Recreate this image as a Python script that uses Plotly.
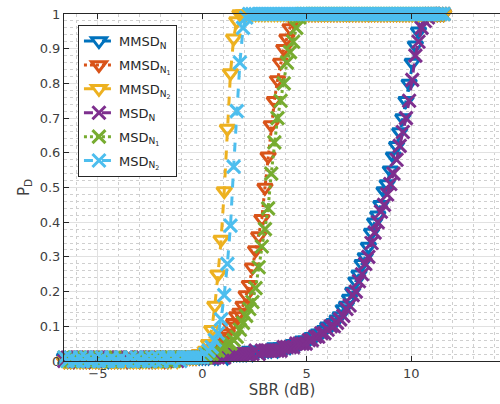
import plotly.graph_objects as go

sbr_db = [
    -6.60, -6.45, -6.30, -6.15, -6.00, -5.85, -5.70, -5.55, -5.40, -5.25,
    -5.10, -4.95, -4.80, -4.65, -4.50, -4.35, -4.20, -4.05, -3.90, -3.75,
    -3.60, -3.45, -3.30, -3.15, -3.00, -2.85, -2.70, -2.55, -2.40, -2.25,
    -2.10, -1.95, -1.80, -1.65, -1.50, -1.35, -1.20, -1.05, -0.90, -0.75,
    -0.60, -0.45, -0.30, -0.15, 0.00, 0.15, 0.30, 0.45, 0.60, 0.75,
    0.90, 1.05, 1.20, 1.35, 1.50, 1.65, 1.80, 1.95, 2.10, 2.25,
    2.40, 2.55, 2.70, 2.85, 3.00, 3.15, 3.30, 3.45, 3.60, 3.75,
    3.90, 4.05, 4.20, 4.35, 4.50, 4.65, 4.80, 4.95, 5.10, 5.25,
    5.40, 5.55, 5.70, 5.85, 6.00, 6.15, 6.30, 6.45, 6.60, 6.75,
    6.90, 7.05, 7.20, 7.35, 7.50, 7.65, 7.80, 7.95, 8.10, 8.25,
    8.40, 8.55, 8.70, 8.85, 9.00, 9.15, 9.30, 9.45, 9.60, 9.75,
    9.90, 10.05, 10.20, 10.35, 10.50, 10.65, 10.80, 10.95, 11.10, 11.25,
    11.40, 11.55,
]

pd_mmsd_n = [
    0.01, 0.00, 0.01, 0.00, 0.01, 0.01, 0.00, 0.01, 0.00, 0.01,
    0.01, 0.00, 0.01, 0.01, 0.00, 0.01, 0.01, 0.00, 0.01, 0.01,
    0.00, 0.01, 0.01, 0.01, 0.00, 0.01, 0.01, 0.01, 0.00, 0.01,
    0.01, 0.01, 0.01, 0.00, 0.01, 0.01, 0.01, 0.01, 0.01, 0.01,
    0.01, 0.01, 0.01, 0.01, 0.01, 0.01, 0.01, 0.02, 0.01, 0.01,
    0.02, 0.02, 0.01, 0.02, 0.02, 0.02, 0.02, 0.02, 0.02, 0.03,
    0.02, 0.03, 0.03, 0.03, 0.03, 0.03, 0.03, 0.04, 0.03, 0.04,
    0.04, 0.04, 0.04, 0.05, 0.05, 0.05, 0.06, 0.06, 0.06, 0.07,
    0.07, 0.08, 0.08, 0.09, 0.10, 0.10, 0.11, 0.12, 0.13, 0.15,
    0.16, 0.18, 0.20, 0.23, 0.25, 0.28, 0.30, 0.33, 0.37, 0.40,
    0.42, 0.45, 0.49, 0.51, 0.55, 0.59, 0.62, 0.66, 0.70, 0.75,
    0.80, 0.86, 0.91, 0.95, 0.98, 0.99, 1, 1, 1, 1,
    1, 1,
]

pd_mmsd_n1 = [
    0.00, 0.01, 0.00, 0.00, 0.01, 0.00, 0.01, 0.00, 0.00, 0.01,
    0.00, 0.00, 0.01, 0.00, 0.01, 0.00, 0.00, 0.01, 0.00, 0.01,
    0.00, 0.01, 0.00, 0.01, 0.00, 0.01, 0.01, 0.00, 0.01, 0.00,
    0.01, 0.01, 0.00, 0.01, 0.01, 0.01, 0.01, 0.01, 0.01, 0.01,
    0.01, 0.01, 0.01, 0.02, 0.02, 0.02, 0.03, 0.03, 0.04, 0.05,
    0.06, 0.07, 0.08, 0.10, 0.11, 0.13, 0.14, 0.16, 0.19, 0.22,
    0.27, 0.32, 0.36, 0.41, 0.50, 0.59, 0.68, 0.75, 0.81, 0.86,
    0.90, 0.93, 0.96, 0.98, 0.99, 1, 1, 1, 1, 1,
    1, 1, 1, 1, 1, 1, 1, 1, 1, 1,
    1, 1, 1, 1, 1, 1, 1, 1, 1, 1,
    1, 1, 1, 1, 1, 1, 1, 1, 1, 1,
    1, 1, 1, 1, 1, 1, 1, 1, 1, 1,
    1, 1,
]

pd_mmsd_n2 = [
    0.00, 0.00, 0.00, 0.01, 0.00, 0.00, 0.00, 0.00, 0.01, 0.00,
    0.00, 0.00, 0.00, 0.00, 0.01, 0.00, 0.00, 0.00, 0.00, 0.00,
    0.01, 0.00, 0.00, 0.00, 0.00, 0.00, 0.00, 0.01, 0.00, 0.00,
    0.00, 0.00, 0.01, 0.00, 0.00, 0.01, 0.00, 0.01, 0.01, 0.01,
    0.01, 0.01, 0.01, 0.02, 0.02, 0.03, 0.05, 0.09, 0.16, 0.25,
    0.35, 0.49, 0.67, 0.83, 0.93, 0.98, 1, 1, 1, 1,
    1, 1, 1, 1, 1, 1, 1, 1, 1, 1,
    1, 1, 1, 1, 1, 1, 1, 1, 1, 1,
    1, 1, 1, 1, 1, 1, 1, 1, 1, 1,
    1, 1, 1, 1, 1, 1, 1, 1, 1, 1,
    1, 1, 1, 1, 1, 1, 1, 1, 1, 1,
    1, 1, 1, 1, 1, 1, 1, 1, 1, 1,
    1, 1,
]

pd_msd_n = [
    0.00, 0.01, 0.01, 0.00, 0.01, 0.00, 0.01, 0.01, 0.00, 0.01,
    0.00, 0.01, 0.01, 0.00, 0.01, 0.01, 0.00, 0.01, 0.01, 0.00,
    0.01, 0.01, 0.00, 0.01, 0.01, 0.01, 0.00, 0.01, 0.01, 0.01,
    0.01, 0.00, 0.01, 0.01, 0.01, 0.01, 0.00, 0.01, 0.01, 0.01,
    0.01, 0.01, 0.01, 0.01, 0.01, 0.01, 0.01, 0.01, 0.01, 0.01,
    0.02, 0.01, 0.02, 0.02, 0.02, 0.02, 0.02, 0.02, 0.02, 0.02,
    0.02, 0.03, 0.02, 0.03, 0.03, 0.03, 0.03, 0.03, 0.03, 0.03,
    0.04, 0.04, 0.04, 0.04, 0.05, 0.05, 0.05, 0.05, 0.06, 0.06,
    0.07, 0.07, 0.08, 0.08, 0.09, 0.10, 0.10, 0.11, 0.12, 0.13,
    0.15, 0.16, 0.19, 0.20, 0.23, 0.25, 0.28, 0.30, 0.34, 0.37,
    0.40, 0.43, 0.45, 0.48, 0.51, 0.54, 0.58, 0.62, 0.66, 0.70,
    0.75, 0.81, 0.88, 0.92, 0.96, 0.98, 0.99, 1, 1, 1,
    1, 1,
]

pd_msd_n1 = [
    0.01, 0.00, 0.00, 0.01, 0.00, 0.01, 0.00, 0.00, 0.01, 0.00,
    0.01, 0.00, 0.00, 0.01, 0.00, 0.00, 0.01, 0.00, 0.01, 0.00,
    0.00, 0.01, 0.00, 0.00, 0.01, 0.00, 0.01, 0.00, 0.00, 0.01,
    0.00, 0.01, 0.01, 0.00, 0.01, 0.00, 0.01, 0.01, 0.01, 0.01,
    0.01, 0.01, 0.01, 0.01, 0.01, 0.01, 0.02, 0.02, 0.03, 0.03,
    0.04, 0.04, 0.05, 0.05, 0.06, 0.07, 0.09, 0.11, 0.13, 0.15,
    0.17, 0.21, 0.27, 0.33, 0.38, 0.44, 0.54, 0.63, 0.70, 0.75,
    0.80, 0.86, 0.89, 0.92, 0.96, 0.99, 1, 1, 1, 1,
    1, 1, 1, 1, 1, 1, 1, 1, 1, 1,
    1, 1, 1, 1, 1, 1, 1, 1, 1, 1,
    1, 1, 1, 1, 1, 1, 1, 1, 1, 1,
    1, 1, 1, 1, 1, 1, 1, 1, 1, 1,
    1, 1,
]

pd_msd_n2 = [
    0.01, 0.00, 0.01, 0.00, 0.00, 0.01, 0.00, 0.01, 0.00, 0.00,
    0.01, 0.00, 0.01, 0.00, 0.00, 0.01, 0.00, 0.00, 0.01, 0.00,
    0.00, 0.01, 0.00, 0.01, 0.00, 0.00, 0.01, 0.00, 0.01, 0.00,
    0.01, 0.00, 0.01, 0.01, 0.00, 0.01, 0.01, 0.00, 0.01, 0.01,
    0.01, 0.01, 0.01, 0.01, 0.01, 0.02, 0.03, 0.04, 0.06, 0.08,
    0.12, 0.19, 0.28, 0.39, 0.56, 0.72, 0.86, 0.96, 0.99, 1,
    1, 1, 1, 1, 1, 1, 1, 1, 1, 1,
    1, 1, 1, 1, 1, 1, 1, 1, 1, 1,
    1, 1, 1, 1, 1, 1, 1, 1, 1, 1,
    1, 1, 1, 1, 1, 1, 1, 1, 1, 1,
    1, 1, 1, 1, 1, 1, 1, 1, 1, 1,
    1, 1, 1, 1, 1, 1, 1, 1, 1, 1,
    1, 1,
]

series_names = [
    "MMSD<sub>N</sub>",
    "MMSD<sub>N<sub>1</sub></sub>",
    "MMSD<sub>N<sub>2</sub></sub>",
    "MSD<sub>N</sub>",
    "MSD<sub>N<sub>1</sub></sub>",
    "MSD<sub>N<sub>2</sub></sub>",
]
series_values = [pd_mmsd_n, pd_mmsd_n1, pd_mmsd_n2, pd_msd_n, pd_msd_n1, pd_msd_n2]
for s in series_values:
    assert len(s) == len(sbr_db), (len(s), len(sbr_db))

colors = ["#0072BD", "#D95319", "#EDB120", "#7E2F8E", "#77AC30", "#4DBEEE"]
dashes = ["dash", "dot", "dash", "dash", "dot", "dash"]
symbols = ["triangle-down-open", "triangle-down-open", "triangle-down-open",
           "x-thin-open", "x-thin-open", "x-thin-open"]

x_ticks = [-5, 0, 5, 10]
y_ticks = [0, 0.1, 0.2, 0.3, 0.4, 0.5, 0.6, 0.7, 0.8, 0.9, 1]
y_ticklabels = ["0", "0.1", "0.2", "0.3", "0.4", "0.5", "0.6", "0.7", "0.8", "0.9", "1"]

fig = go.Figure()
for k, (name, vals, c, d, sym) in enumerate(zip(series_names, series_values, colors, dashes, symbols)):
    fig.add_trace(go.Scatter(
        x=sbr_db, y=vals, name=name, mode="lines+markers",
        legendgroup=f"g{k}",
        line=dict(color=c, width=3, dash=d),
        marker=dict(symbol=sym, size=13, color=c, line=dict(color=c, width=3)),
        cliponaxis=False,
    ))

axis_common = dict(
    showline=True, linecolor="#262626", linewidth=1,
    ticks="inside", ticklen=5, tickcolor="#262626",
    tickfont=dict(family="DejaVu Sans", size=13, color="#404040"),
    showgrid=True, gridcolor="#e1e1e1", gridwidth=1,
    zeroline=False,
)

fig.update_layout(
    width=500, height=404,
    margin=dict(l=64, r=0, t=14, b=43),
    paper_bgcolor="white", plot_bgcolor="white",
    font=dict(family="DejaVu Sans", color="#262626"),
    xaxis=dict(
        range=[-6.62, 14.25], tickvals=x_ticks, mirror="ticks",
        title=dict(text="SBR (dB)", font=dict(size=15, color="#404040"), standoff=4),
        minor=dict(dtick=1, tick0=0, showgrid=True, gridcolor="#cfcfcf",
                   griddash="dot", gridwidth=1),
        **axis_common,
    ),
    yaxis=dict(
        range=[0, 1], tickvals=y_ticks, ticktext=y_ticklabels,
        title=dict(text="P<sub>D</sub>", font=dict(size=15, color="#404040"), standoff=6),
        minor=dict(dtick=0.02, tick0=0, showgrid=True, gridcolor="#cfcfcf",
                   griddash="dot", gridwidth=1),
        **axis_common,
    ),
    legend=dict(
        x=0.032, y=0.968, xanchor="left", yanchor="top",
        bgcolor="white", bordercolor="#262626", borderwidth=1,
        font=dict(family="DejaVu Sans", size=13, color="#262626"),
        tracegroupgap=4, itemwidth=30,
    ),
    showlegend=True,
)

fig.write_html("out.html")
